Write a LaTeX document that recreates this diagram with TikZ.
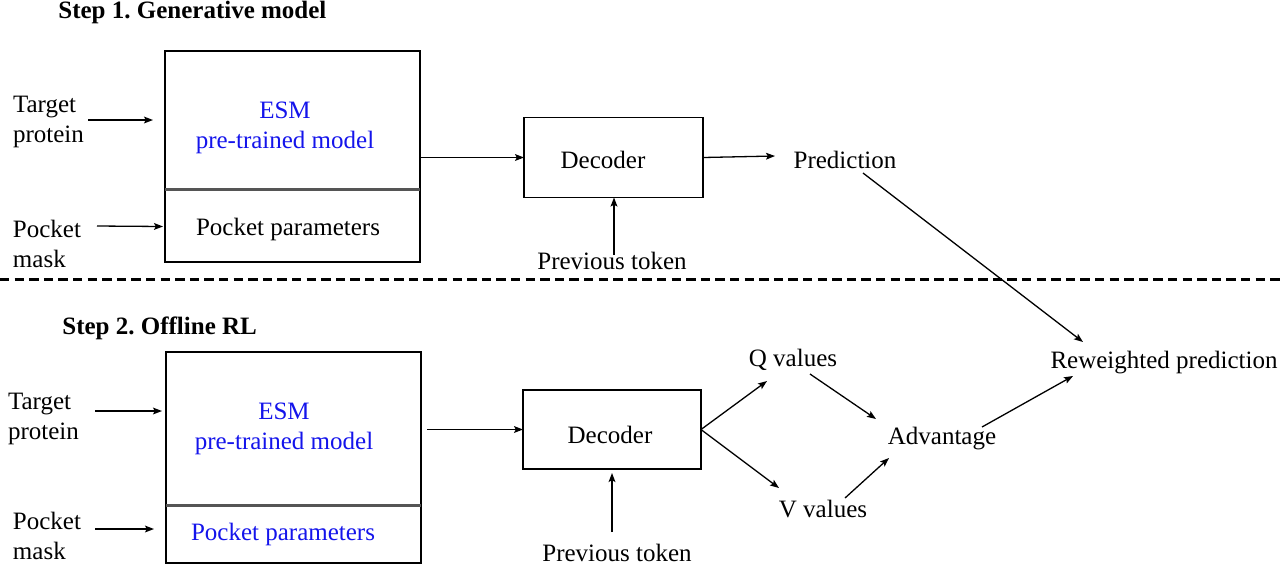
\documentclass[tikz,border=0pt]{standalone}
\usepackage{fontspec}
\setmainfont{Liberation Serif}
\usetikzlibrary{arrows.meta,calc}
\definecolor{esmblue}{RGB}{20,20,235}
\definecolor{divgray}{RGB}{85,85,85}
\tikzset{
  txt/.style={inner sep=0pt, font=\fontsize{12.5}{15}\selectfont, align=center},
  txtl/.style={inner sep=0pt, font=\fontsize{12.5}{15}\selectfont, align=left},
  ttl/.style={inner sep=0pt, font=\fontsize{12.5}{15}\selectfont\bfseries\frenchspacing, anchor=west},
  half/.style={inner sep=0pt, outer sep=0pt, minimum width=255*0.5pt},
  blk/.style={draw, line width=0.75pt, inner sep=0pt, outer sep=0pt},
  arr/.style={-{Stealth[length=4.5pt,width=3.4pt,inset=0.9pt]}, line width=0.65pt},
  sep/.style={line width=1.5pt, dash pattern=on 4.7pt off 2.6pt},
}
\begin{document}
\begin{tikzpicture}[x=0.5pt,y=-0.5pt]
\useasboundingbox (0,0) rectangle (1280,564);

% ---------- Step 1 ----------
\node[ttl] (step1) at (58,12.5) {Step 1. Generative model};
\node[txtl] (tp1) at (48.5,121.5) {Target\\protein};
\node[txtl] (pm1) at (47,243.5) {Pocket\\mask};

\node[half, minimum height=138*0.5pt, anchor=north west] (esm1) at (165,51) {};
\node[half, minimum height=73*0.5pt, anchor=north west] (pp1) at (165,189) {};
\draw[line width=0.75pt] (esm1.north west) rectangle (pp1.south east);
\draw[divgray, line width=1.5pt] (esm1.south west) -- (esm1.south east);
\node[txt, text=esmblue] (esm1t) at (285,127.5) {ESM\\pre-trained model};
\node[txt] (pp1t) at (288,229.5) {Pocket parameters};

\node[blk, minimum width=179*0.5pt, minimum height=80*0.5pt] (dec1) at (613.5,157.5) {};
\node[txt] (dec1t) at (603,159.5) {Decoder};
\node[txt] (pred1) at (845,159.5) {Prediction};
\node[txt] (prev1) at (612,260.5) {Previous token};

\draw[arr] ($(tp1)+(39.5,-1.5)$) -- ($(esm1.west)+(-12,0)$);
\draw[arr] ($(pm1)+(50,-17.5)$) -- ($(pp1.west)+(-2,1)$);
\draw[arr] (dec1.west -| esm1.east) -- (dec1.west);
\draw[arr] (dec1.east) -- ($(pred1)+(-70,-3.5)$);
\draw[arr] ($(prev1)+(2,-5.5)$) -- ($(dec1.south)+(0.5,0)$);

% ---------- separator ----------
\coordinate (sepL) at (0,279);
\coordinate (sepR) at (1280,279);
\draw[sep] (sepL) -- (sepR);

% ---------- Step 2 ----------
\node[ttl] (step2) at (62,328.5) {Step 2. Offline RL};
\node[txtl] (tp2) at (43.5,418.5) {Target\\protein};
\node[txtl] (pm2) at (47,535.5) {Pocket\\mask};

\node[half, minimum height=153*0.5pt, anchor=north west] (esm2) at (166,352) {};
\node[half, minimum height=58*0.5pt, anchor=north west] (pp2) at (166,505) {};
\draw[line width=0.75pt] (esm2.north west) rectangle (pp2.south east);
\draw[divgray, line width=1.5pt] (esm2.south west) -- (esm2.south east);
\node[txt, text=esmblue] (esm2t) at (284,428.5) {ESM\\pre-trained model};
\node[txt, text=esmblue] (pp2t) at (283,534.5) {Pocket parameters};

\node[blk, minimum width=178*0.5pt, minimum height=79*0.5pt] (dec2) at (612,429.5) {};
\node[txt] (dec2t) at (610,434.5) {Decoder};
\node[txt] (prev2) at (617,552.5) {Previous token};

\node[txt] (qv) at (793,359.5) {Q values};
\node[txt] (vv) at (823,509.5) {V values};
\node[txt] (adv) at (942,438.5) {Advantage};
\node[txt] (rw) at (1164,362.5) {Reweighted prediction};

\draw[arr] ($(tp2)+(51.5,-7.5)$) -- ($(esm2.west)+(-4,-17.5)$);
\draw[arr] ($(pm2)+(48,-6.5)$) -- ($(pp2.west)+(-12,-5)$);
\draw[arr, shorten <=3pt] (dec2.west -| esm2.east) -- (dec2.west);
\draw[arr] ($(prev2)+(-5,-20.5)$) -- ($(dec2.south)+(0,4)$);
\draw[arr] (dec2.east) -- ($(qv)+(-26,21.5)$);
\draw[arr] (dec2.east) -- ($(vv)+(-44,-21.5)$);
\draw[arr] ($(qv)+(17,14.5)$) -- ($(adv)+(-66,-19.5)$);
\draw[arr] ($(vv)+(22,-11.5)$) -- ($(adv)+(-53,19.5)$);
\draw[arr] ($(adv)+(40,-11.5)$) -- ($(rw)+(-91,13.5)$);

% cross-stage arrow
\draw[arr] ($(pred1)+(18,13.5)$) -- ($(rw)+(-81,-20.5)$);
\end{tikzpicture}
\end{document}
